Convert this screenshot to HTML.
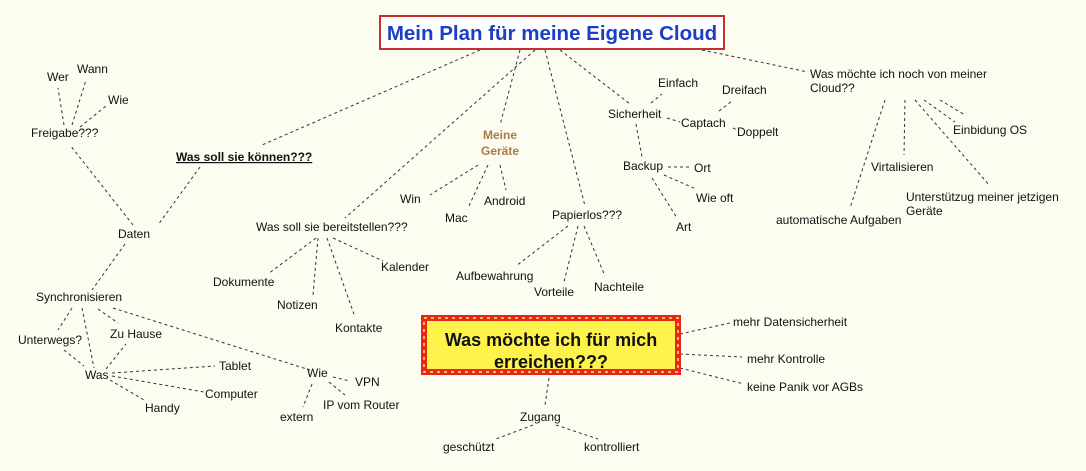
<!DOCTYPE html>
<html><head><meta charset="utf-8"><style>
html,body{margin:0;padding:0;background:#fdfcf1;}
svg{display:block}
text{font-family:"Liberation Sans",sans-serif;font-size:12px;fill:#111}
</style></head><body>
<svg width="1086" height="471" viewBox="0 0 1086 471" xmlns="http://www.w3.org/2000/svg">
<rect width="1086" height="471" fill="#fdfcf1"/>
<g stroke="#333" stroke-width="1" stroke-dasharray="3,3" fill="none">
<line x1="480" y1="50" x2="262" y2="145"/>
<line x1="520" y1="50" x2="500" y2="125"/>
<line x1="535" y1="50" x2="345" y2="218"/>
<line x1="545" y1="50" x2="585" y2="206"/>
<line x1="560" y1="50" x2="630" y2="104"/>
<line x1="702" y1="50" x2="808" y2="72"/>
<line x1="200" y1="167" x2="158" y2="225"/>
<line x1="133" y1="225" x2="70" y2="145"/>
<line x1="64" y1="125" x2="58" y2="88"/>
<line x1="72" y1="125" x2="86" y2="80"/>
<line x1="80" y1="127" x2="106" y2="106"/>
<line x1="125" y1="244" x2="92" y2="290"/>
<line x1="72" y1="308" x2="58" y2="330"/>
<line x1="82" y1="308" x2="94" y2="368"/>
<line x1="98" y1="309" x2="118" y2="323"/>
<line x1="113" y1="308" x2="310" y2="370"/>
<line x1="64" y1="350" x2="84" y2="366"/>
<line x1="106" y1="369" x2="126" y2="344"/>
<line x1="112" y1="373" x2="215" y2="366"/>
<line x1="112" y1="376" x2="204" y2="392"/>
<line x1="110" y1="380" x2="144" y2="400"/>
<line x1="333" y1="377" x2="350" y2="381"/>
<line x1="329" y1="382" x2="345" y2="395"/>
<line x1="312" y1="384" x2="303" y2="407"/>
<line x1="316" y1="238" x2="268" y2="274"/>
<line x1="318" y1="238" x2="313" y2="295"/>
<line x1="327" y1="238" x2="355" y2="317"/>
<line x1="333" y1="238" x2="383" y2="261"/>
<line x1="478" y1="165" x2="430" y2="195"/>
<line x1="488" y1="165" x2="468" y2="208"/>
<line x1="500" y1="165" x2="506" y2="190"/>
<line x1="568" y1="226" x2="516" y2="266"/>
<line x1="578" y1="226" x2="564" y2="282"/>
<line x1="584" y1="226" x2="605" y2="276"/>
<line x1="651" y1="103" x2="662" y2="94"/>
<line x1="667" y1="118" x2="680" y2="122"/>
<line x1="719" y1="111" x2="732" y2="101"/>
<line x1="733" y1="128" x2="737" y2="130"/>
<line x1="636" y1="124" x2="642" y2="157"/>
<line x1="668" y1="167" x2="690" y2="167"/>
<line x1="664" y1="175" x2="696" y2="189"/>
<line x1="652" y1="178" x2="677" y2="218"/>
<line x1="885" y1="100" x2="850" y2="208"/>
<line x1="905" y1="100" x2="904" y2="155"/>
<line x1="915" y1="100" x2="990" y2="186"/>
<line x1="924" y1="100" x2="955" y2="122"/>
<line x1="940" y1="100" x2="965" y2="115"/>
<line x1="680" y1="334" x2="730" y2="323"/>
<line x1="680" y1="354" x2="742" y2="357"/>
<line x1="680" y1="368" x2="744" y2="384"/>
<line x1="549" y1="378" x2="545" y2="405"/>
<line x1="533" y1="425" x2="496" y2="439"/>
<line x1="556" y1="425" x2="598" y2="439"/>
</g>
<rect x="380" y="16" width="344" height="33" fill="#fff" stroke="#c0322c" stroke-width="2"/>
<text x="552" y="40" text-anchor="middle" style="font-size:20.5px;font-weight:bold;fill:#1b3fc4">Mein Plan für meine Eigene Cloud</text>
<rect x="424" y="318" width="254" height="54" fill="#fdf34a" stroke="#e8261f" stroke-width="6"/>
<rect x="424" y="318" width="254" height="54" fill="none" stroke="#fdf34a" stroke-width="1.5" stroke-dasharray="3,4"/>
<text x="551" y="346" text-anchor="middle" style="font-size:18px;font-weight:bold">Was möchte ich für mich</text>
<text x="551" y="368" text-anchor="middle" style="font-size:18px;font-weight:bold">erreichen???</text>
<text x="47" y="81">Wer</text>
<text x="77" y="73">Wann</text>
<text x="108" y="104">Wie</text>
<text x="31" y="137">Freigabe???</text>
<text x="176" y="161" style="font-weight:bold;text-decoration:underline">Was soll sie können???</text>
<text x="118" y="238">Daten</text>
<text x="36" y="301">Synchronisieren</text>
<text x="18" y="344">Unterwegs?</text>
<text x="110" y="338">Zu Hause</text>
<text x="85" y="379">Was</text>
<text x="219" y="370">Tablet</text>
<text x="205" y="398">Computer</text>
<text x="145" y="412">Handy</text>
<text x="307" y="377">Wie</text>
<text x="355" y="386">VPN</text>
<text x="323" y="409">IP vom Router</text>
<text x="280" y="421">extern</text>
<text x="256" y="231">Was soll sie bereitstellen???</text>
<text x="213" y="286">Dokumente</text>
<text x="277" y="309">Notizen</text>
<text x="335" y="332">Kontakte</text>
<text x="381" y="271">Kalender</text>
<text x="500" y="139" text-anchor="middle" style="font-weight:bold;fill:#a87d45">Meine</text>
<text x="500" y="155" text-anchor="middle" style="font-weight:bold;fill:#a87d45">Geräte</text>
<text x="400" y="203">Win</text>
<text x="445" y="222">Mac</text>
<text x="484" y="205">Android</text>
<text x="552" y="219">Papierlos???</text>
<text x="456" y="280">Aufbewahrung</text>
<text x="534" y="296">Vorteile</text>
<text x="594" y="291">Nachteile</text>
<text x="608" y="118">Sicherheit</text>
<text x="658" y="87">Einfach</text>
<text x="722" y="94">Dreifach</text>
<text x="681" y="127">Captach</text>
<text x="737" y="136">Doppelt</text>
<text x="623" y="170">Backup</text>
<text x="694" y="172">Ort</text>
<text x="696" y="202">Wie oft</text>
<text x="676" y="231">Art</text>
<text x="810" y="78">Was möchte ich noch von meiner</text>
<text x="810" y="92">Cloud??</text>
<text x="953" y="134">Einbidung OS</text>
<text x="871" y="171">Virtalisieren</text>
<text x="906" y="201">Unterstützug meiner jetzigen</text>
<text x="906" y="215">Geräte</text>
<text x="776" y="224">automatische Aufgaben</text>
<text x="733" y="326">mehr Datensicherheit</text>
<text x="747" y="363">mehr Kontrolle</text>
<text x="747" y="391">keine Panik vor AGBs</text>
<text x="520" y="421">Zugang</text>
<text x="443" y="451">geschützt</text>
<text x="584" y="451">kontrolliert</text>
</svg>
</body></html>
